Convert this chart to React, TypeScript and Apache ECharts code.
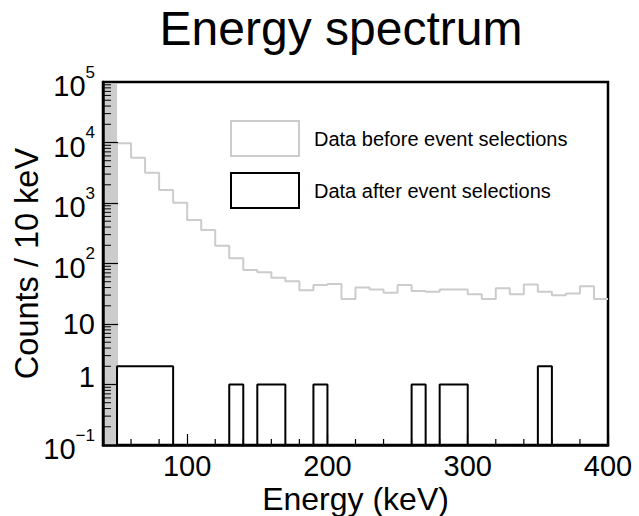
import React, { useEffect, useRef } from 'react';
import * as echarts from 'echarts';

// ---- data ----
const BIN_LOW_EDGES = [50, 60, 70, 80, 90, 100, 110, 120, 130, 140, 150, 160, 170, 180, 190, 200, 210, 220, 230, 240, 250, 260, 270, 280, 290, 300, 310, 320, 330, 340, 350, 360, 370, 380, 390];
const BIN_WIDTH = 10;
const BEFORE_COUNTS = [9700, 5600, 3160, 1640, 1010, 524, 358, 197, 122, 78, 72, 58, 51, 36, 44, 46, 26, 40, 37, 33, 44, 35, 34, 37, 37, 31, 26, 39, 31, 45, 34, 30, 32, 42, 26];
const AFTER_COUNTS = [2, 2, 2, 2, 0, 0, 0, 0, 1, 0, 1, 1, 0, 0, 1, 0, 0, 0, 0, 0, 0, 1, 0, 1, 1, 0, 0, 0, 0, 0, 2, 0, 0, 0, 0];
const SERIES_NAMES = ['Data before event selections', 'Data after event selections'];
const X_MIN = 40;
const X_MAX = 400;
const Y_MIN = 0.1;
const Y_MAX = 100000;
const EXCLUDED_REGION = [40, 50];
const X_TICK_LABELS = [100, 200, 300, 400];
const X_MINOR_STEP = 20;
const Y_TICK_EXPONENTS = [-1, 0, 1, 2, 3, 4, 5];

const FONT = '"Liberation Sans", Arial, Helvetica, sans-serif';

function stepData(counts: number[], floor: number) {
  const pts: number[][] = [[BIN_LOW_EDGES[0], floor]];
  counts.forEach((c, i) => pts.push([BIN_LOW_EDGES[i], Math.max(c, floor)]));
  const last = BIN_LOW_EDGES[BIN_LOW_EDGES.length - 1] + BIN_WIDTH;
  pts.push([last, Math.max(counts[counts.length - 1], floor)]);
  return pts;
}

export default function App() {
  const ref = useRef<HTMLDivElement>(null);
  useEffect(() => {
    if (!ref.current) return;
    const chart = echarts.init(ref.current, null, { renderer: 'svg' });

    const yMinor: number[][] = [];
    for (let e = Y_TICK_EXPONENTS[0]; e < Y_TICK_EXPONENTS[Y_TICK_EXPONENTS.length - 1]; e++) {
      for (let m = 2; m <= 9; m++) yMinor.push([X_MIN, m * Math.pow(10, e)]);
    }
    const xMinor: number[][] = [];
    for (let v = Math.ceil(X_MIN / X_MINOR_STEP) * X_MINOR_STEP; v < X_MAX; v += X_MINOR_STEP) {
      if (v > X_MIN && !X_TICK_LABELS.includes(v)) xMinor.push([v, Y_MIN]);
    }

    const yFormatter = (v: number) => {
      const e = Math.round(Math.log10(v));
      if (e === 0) return '{one|1}';
      if (e === 1) return '{plain|10}';
      const sup = e < 0 ? '\u2212' + -e : String(e);
      return `{b|10}{s|${sup}}`;
    };

    chart.setOption({
      animation: false,
      backgroundColor: '#ffffff',
      title: {
        text: 'Energy spectrum',
        left: 336,
        textAlign: 'center',
        top: -1,
        textStyle: { fontFamily: FONT, fontSize: 48, fontWeight: 'normal', color: '#000' },
      },
      legend: {
        orient: 'vertical',
        left: 230,
        top: 120,
        padding: 0,
        itemWidth: 68,
        itemHeight: 35,
        itemGap: 15,
        selectedMode: false,
        textStyle: { fontFamily: FONT, fontSize: 20, color: '#000', padding: [0, 0, 0, 10] },
        data: [
          { name: SERIES_NAMES[0], icon: 'rect', itemStyle: { color: '#ffffff', borderColor: '#cccccc', borderWidth: 2 } },
          { name: SERIES_NAMES[1], icon: 'rect', itemStyle: { color: '#ffffff', borderColor: '#000000', borderWidth: 2 } },
        ],
      },
      grid: {
        left: 103,
        top: 82,
        right: 31,
        bottom: 71,
        show: true,
        borderColor: '#000',
        borderWidth: 2.5,
        backgroundColor: 'transparent',
        containLabel: false,
        outerBoundsMode: 'none',
      },
      xAxis: {
        type: 'value',
        min: X_MIN,
        max: X_MAX,
        splitNumber: 4,
        z: 10,
        name: 'Energy (keV)',
        nameLocation: 'middle',
        nameGap: 38,
        nameMoveOverlap: false,
        nameTextStyle: { fontFamily: FONT, fontSize: 32, color: '#000' },
        axisLine: { show: true, lineStyle: { color: '#000', width: 2.5 } },
        axisTick: { show: true, inside: true, length: 11, lineStyle: { color: '#000', width: 1.2 } },
        axisLabel: {
          show: true,
          showMinLabel: false,
          margin: 6,
          fontFamily: FONT,
          fontSize: 29,
          color: '#000',
          formatter: (v: number) => (X_TICK_LABELS.includes(v) ? String(v) : ''),
        },
        splitLine: { show: false },
      },
      yAxis: {
        type: 'log',
        logBase: 10,
        min: Y_MIN,
        max: Y_MAX,
        z: 10,
        name: 'Counts / 10 keV',
        nameLocation: 'middle',
        nameGap: 60,
        nameMoveOverlap: false,
        nameTextStyle: { fontFamily: FONT, fontSize: 32.5, color: '#000' },
        axisLine: { show: true, lineStyle: { color: '#000', width: 2.5 } },
        axisTick: { show: true, inside: true, length: 15, lineStyle: { color: '#000', width: 1.2 } },
        axisLabel: {
          margin: 8,
          formatter: yFormatter,
          rich: {
            b: { fontFamily: FONT, fontSize: 29, color: '#000', verticalAlign: 'bottom', padding: [8, 0, 0, 0] },
            s: { fontFamily: FONT, fontSize: 17, color: '#000', verticalAlign: 'top' },
            plain: { fontFamily: FONT, fontSize: 29, color: '#000' },
            one: { fontFamily: FONT, fontSize: 29, color: '#000', padding: [0, 0, 16, 0] },
          },
        },
        splitLine: { show: false },
      },
      series: [
        {
          name: SERIES_NAMES[0],
          type: 'line',
          step: 'end',
          symbol: 'none',
          data: stepData(BEFORE_COUNTS, Y_MIN),
          lineStyle: { color: '#cccccc', width: 2 },
          itemStyle: { color: '#cccccc' },
          z: 3,
          markArea: {
            silent: true,
            itemStyle: { color: '#cccccc' },
            data: [[{ xAxis: EXCLUDED_REGION[0] }, { xAxis: EXCLUDED_REGION[1] }]],
          },
        },
        {
          name: SERIES_NAMES[1],
          type: 'line',
          step: 'end',
          symbol: 'none',
          data: stepData(AFTER_COUNTS, Y_MIN),
          lineStyle: { color: '#000000', width: 2 },
          itemStyle: { color: '#000000' },
          z: 4,
        },
        {
          type: 'custom',
          silent: true,
          z: 8,
          data: yMinor,
          renderItem: (_p: any, api: any) => {
            const p = api.coord([api.value(0), api.value(1)]);
            return { type: 'line', shape: { x1: p[0], y1: p[1], x2: p[0] + 8, y2: p[1] }, style: { stroke: '#000', lineWidth: 1 } };
          },
        },
        {
          type: 'custom',
          silent: true,
          z: 8,
          data: xMinor,
          renderItem: (_p: any, api: any) => {
            const p = api.coord([api.value(0), api.value(1)]);
            return { type: 'line', shape: { x1: p[0], y1: p[1], x2: p[0], y2: p[1] - 6 }, style: { stroke: '#000', lineWidth: 1.2 } };
          },
        },
      ],
    });
    return () => chart.dispose();
  }, []);
  return <div ref={ref} style={{ position: 'fixed', left: 0, top: 0, width: 639, height: 516 }} />;
}
